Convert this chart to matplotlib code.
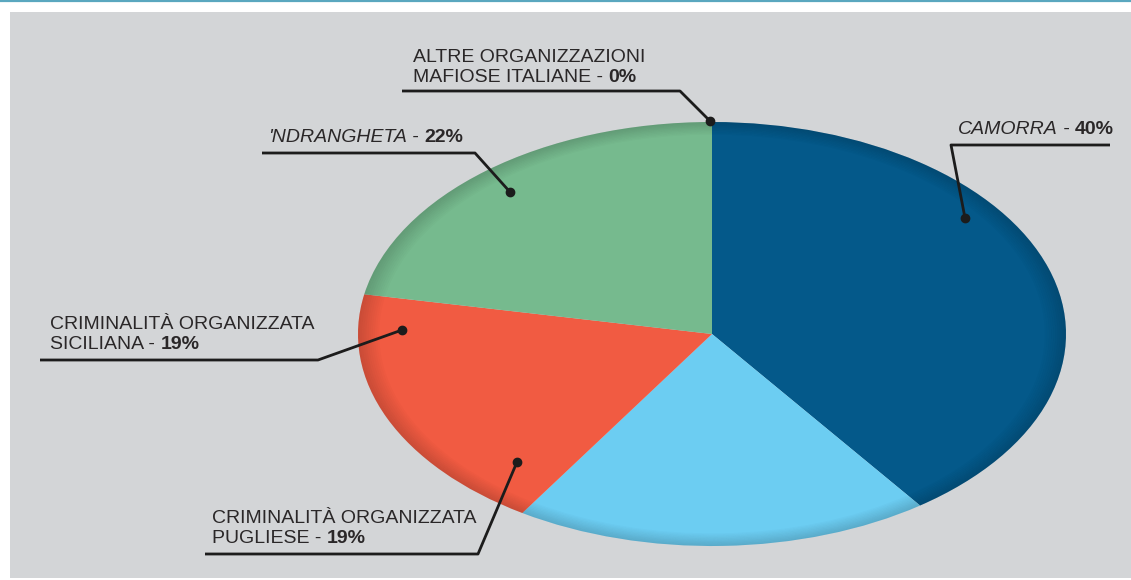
import matplotlib
matplotlib.use("Agg")
import matplotlib.pyplot as plt
from matplotlib.patches import Rectangle, Wedge

# slices, clockwise from the top
names = ["CAMORRA", "CRIMINALITÀ ORGANIZZATA PUGLIESE", "CRIMINALITÀ ORGANIZZATA SICILIANA",
         "'NDRANGHETA", "ALTRE ORGANIZZAZIONI MAFIOSE ITALIANE"]
values = [40, 19, 19, 22, 0]
colors = ["#04598a", "#6ccdf2", "#f15b42", "#76ba8e", "#9a9a9a"]

W, H = 1131, 580
cx, cy, rx, ry = 712, 334, 354, 212

plt.rcParams['font.family'] = ['Liberation Sans', 'DejaVu Sans']

fig = plt.figure(figsize=(W / 100, H / 100), dpi=100)
fig.patch.set_facecolor("white")

# background panel
bg = fig.add_axes([0, 0, 1, 1], zorder=0)
bg.set_xlim(0, W)
bg.set_ylim(H, 0)
bg.axis("off")
bg.add_patch(Rectangle((10, 12), W - 10, 566, facecolor="#d3d5d7", edgecolor="none"))
bg.plot([0, W], [0.8, 0.8], color="#5aa7bf", lw=1.6)

# pie, stretched into an ellipse
ax = fig.add_axes([0, 0, 1, 1], zorder=1)
ax.patch.set_visible(False)
wedges, _ = ax.pie(values, colors=colors, startangle=90, counterclock=False,
                   radius=1, center=(0, 0), wedgeprops=dict(linewidth=0))
# soft darker rim on each slice
n = 10
for w in wedges:
    if w.theta2 - w.theta1 <= 0:
        continue
    for k in range(n):
        ax.add_patch(Wedge((0, 0), 1 - k * 0.006, w.theta1, w.theta2, width=0.006,
                           facecolor="black", alpha=0.16 * (1 - k / n), linewidth=0))
ax.set_aspect("auto")
ax.set_xlim(-cx / rx, (W - cx) / rx)
ax.set_ylim(-(H - cy) / ry, cy / ry)
ax.axis("off")

# labels and leader lines (pixel coords)
an = fig.add_axes([0, 0, 1, 1], zorder=2)
an.patch.set_visible(False)
an.set_xlim(0, W)
an.set_ylim(H, 0)
an.axis("off")

fs = 14
label_lines = [
    [[("CAMORRA", "italic", "normal"), (" - ", "normal", "normal"), ("40%", "normal", "bold")]],
    [[("CRIMINALITÀ ORGANIZZATA", "normal", "normal")],
     [("PUGLIESE - ", "normal", "normal"), ("19%", "normal", "bold")]],
    [[("CRIMINALITÀ ORGANIZZATA", "normal", "normal")],
     [("SICILIANA - ", "normal", "normal"), ("19%", "normal", "bold")]],
    [[("'NDRANGHETA", "italic", "normal"), (" - ", "normal", "normal"), ("22%", "normal", "bold")]],
    [[("ALTRE ORGANIZZAZIONI", "normal", "normal")],
     [("MAFIOSE ITALIANE - ", "normal", "normal"), ("0%", "normal", "bold")]],
]
# text origin (x, first baseline) and leader path ending at the dot
text_pos = [(958, 134), (212, 523), (50, 329), (268, 142), (413, 62)]
leaders = [
    [(1110, 145), (951, 145), (965, 218)],
    [(205, 554), (478, 554), (517, 462)],
    [(40, 360), (318, 360), (402, 330)],
    [(262, 153), (475, 153), (510, 192)],
    [(402, 91), (680, 91), (710, 121)],
]

fig.canvas.draw()
renderer = fig.canvas.get_renderer()
for lines, (tx, ty), path in zip(label_lines, text_pos, leaders):
    for i, line in enumerate(lines):
        x = tx
        y = ty + i * 20
        for s, style, weight in line:
            t = an.text(x, y, s, fontsize=fs, fontstyle=style, fontweight=weight,
                        color="#2a2728", ha="left", va="baseline")
            x += t.get_window_extent(renderer).width
    xs = [p[0] for p in path]
    ys = [p[1] for p in path]
    an.plot(xs, ys, color="#1c1c1c", lw=2.0, solid_capstyle="butt")
    an.plot(xs[-1], ys[-1], "o", color="#1c1c1c", ms=6)

fig.savefig("out.png", dpi=100)
